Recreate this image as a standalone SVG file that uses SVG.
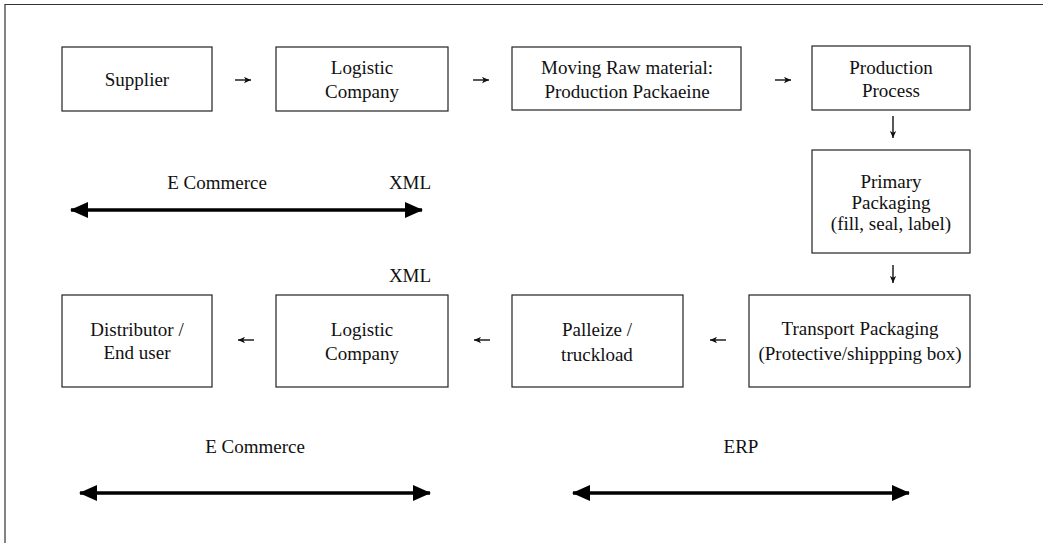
<svg xmlns="http://www.w3.org/2000/svg" width="1043" height="543" viewBox="0 0 1043 543">
<style>
.box{fill:#fff;stroke:#222;stroke-width:1.2}
.t{font-family:"Liberation Serif","Times New Roman",serif;font-size:19px;fill:#111;text-anchor:middle}
.small{stroke:#111;stroke-width:1.4;fill:none}
.big{stroke:#000;stroke-width:3.5;fill:none}
.frame{stroke:#333;stroke-width:1.2;fill:none}
</style>
<defs>
<marker id="sa" viewBox="0 0 10 10" refX="10" refY="5" markerWidth="7" markerHeight="7" markerUnits="userSpaceOnUse" orient="auto">
<path d="M0,0.5 L10,5 L0,9.5 L2.5,5 Z" fill="#111"/>
</marker>
<marker id="ba" viewBox="0 0 18 16" refX="17" refY="8" markerWidth="18" markerHeight="16" markerUnits="userSpaceOnUse" orient="auto-start-reverse">
<path d="M0,0 L18,8 L0,16 Z" fill="#000"/>
</marker>
</defs>
<rect width="1043" height="543" fill="#fff"/>
<path class="frame" d="M5,543 L5,4.5 L1043,4.5"/>

<g id="supplier"><rect class="box" x="62" y="47" width="150" height="64"/><text class="t" x="137" y="85.5">Supplier</text></g>
<g id="logistic1"><rect class="box" x="276" y="47" width="172" height="64"/><text class="t" x="362" y="74">Logistic</text><text class="t" x="362" y="98">Company</text></g>
<g id="moving"><rect class="box" x="512" y="47" width="229" height="63"/><text class="t" x="627" y="74">Moving Raw material:</text><text class="t" x="627" y="98">Production Packaeine</text></g>
<g id="production"><rect class="box" x="812" y="46" width="158" height="64"/><text class="t" x="891" y="74">Production</text><text class="t" x="891" y="97">Process</text></g>
<g id="primary"><rect class="box" x="812" y="150" width="158" height="103"/><text class="t" x="891" y="188">Primary</text><text class="t" x="891" y="209">Packaging</text><text class="t" x="891" y="230">(fill, seal, label)</text></g>
<g id="transport"><rect class="box" x="749" y="295" width="221" height="92"/><text class="t" x="860" y="335">Transport Packaging</text><text class="t" x="860" y="360">(Protective/shippping box)</text></g>
<g id="palleize"><rect class="box" x="512" y="295" width="171" height="92"/><text class="t" x="597" y="336">Palleize /</text><text class="t" x="597" y="361">truckload</text></g>
<g id="logistic2"><rect class="box" x="276" y="295" width="172" height="92"/><text class="t" x="362" y="336">Logistic</text><text class="t" x="362" y="360">Company</text></g>
<g id="distributor"><rect class="box" x="62" y="295" width="150" height="92"/><text class="t" x="137" y="336">Distributor /</text><text class="t" x="137" y="359">End user</text></g>

<g id="labels">
<text class="t" x="217" y="189">E Commerce</text>
<text class="t" x="410" y="189">XML</text>
<text class="t" x="410" y="282">XML</text>
<text class="t" x="255" y="453">E Commerce</text>
<text class="t" x="741" y="453">ERP</text>
</g>

<g id="connectors">
<line class="small" x1="235" y1="80" x2="251" y2="80" marker-end="url(#sa)"/>
<line class="small" x1="473" y1="80" x2="489" y2="80" marker-end="url(#sa)"/>
<line class="small" x1="775" y1="80" x2="791" y2="80" marker-end="url(#sa)"/>
<line class="small" x1="893" y1="116" x2="893" y2="138" marker-end="url(#sa)"/>
<line class="small" x1="893" y1="265" x2="893" y2="283" marker-end="url(#sa)"/>
<line class="small" x1="726" y1="340" x2="710" y2="340" marker-end="url(#sa)"/>
<line class="small" x1="490" y1="340" x2="474" y2="340" marker-end="url(#sa)"/>
<line class="small" x1="254" y1="340" x2="238" y2="340" marker-end="url(#sa)"/>
<line class="big" x1="71" y1="210" x2="422" y2="210" marker-start="url(#ba)" marker-end="url(#ba)"/>
<line class="big" x1="80" y1="493" x2="430" y2="493" marker-start="url(#ba)" marker-end="url(#ba)"/>
<line class="big" x1="573" y1="493" x2="909" y2="493" marker-start="url(#ba)" marker-end="url(#ba)"/>
</g>
</svg>
